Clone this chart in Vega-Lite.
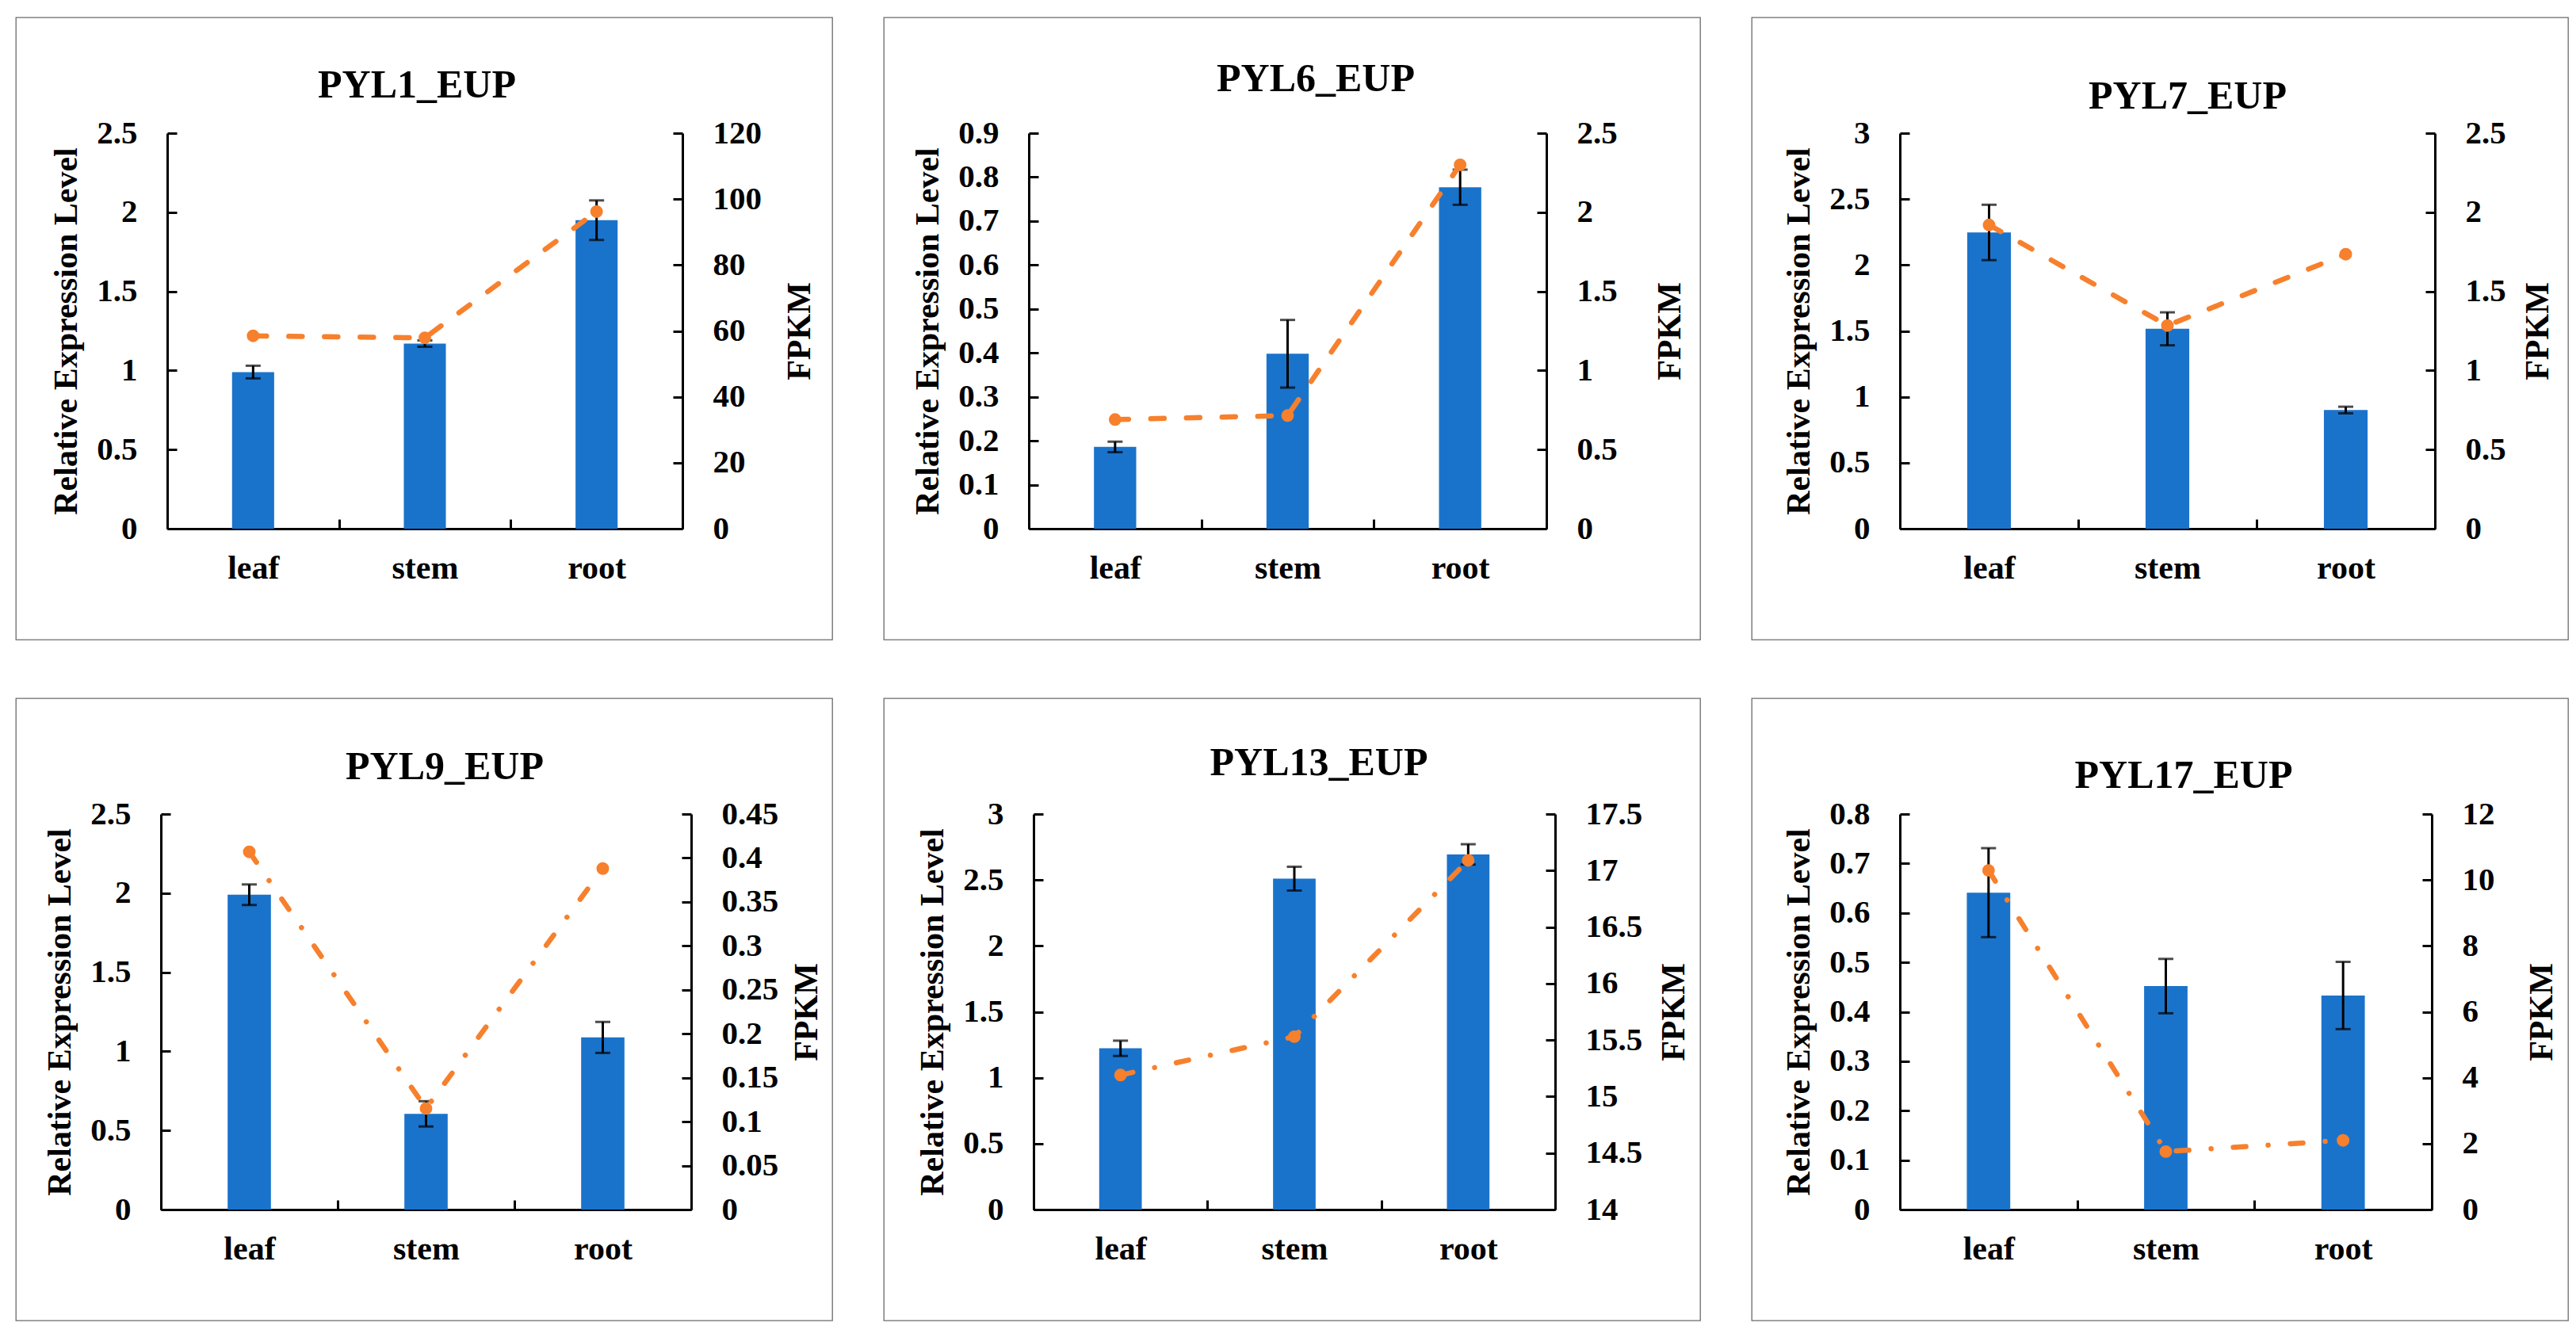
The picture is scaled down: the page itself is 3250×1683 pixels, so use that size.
{
  "$schema": "https://vega.github.io/schema/vega-lite/v6.json",
  "background": "white",
  "padding": {"left": 19, "top": 21, "right": 0, "bottom": 0},
  "datasets": {
    "expr": [
      {"gene": "PYL1_EUP", "tissue": "leaf", "rel": 0.99, "err": 0.04, "fpkm": 58.5},
      {"gene": "PYL1_EUP", "tissue": "stem", "rel": 1.17, "err": 0.02, "fpkm": 57.9},
      {"gene": "PYL1_EUP", "tissue": "root", "rel": 1.95, "err": 0.125, "fpkm": 96.2},
      {"gene": "PYL6_EUP", "tissue": "leaf", "rel": 0.186, "err": 0.012, "fpkm": 0.69},
      {"gene": "PYL6_EUP", "tissue": "stem", "rel": 0.398, "err": 0.077, "fpkm": 0.715},
      {"gene": "PYL6_EUP", "tissue": "root", "rel": 0.777, "err": 0.04, "fpkm": 2.3},
      {"gene": "PYL7_EUP", "tissue": "leaf", "rel": 2.247, "err": 0.21, "fpkm": 1.92},
      {"gene": "PYL7_EUP", "tissue": "stem", "rel": 1.516, "err": 0.125, "fpkm": 1.284},
      {"gene": "PYL7_EUP", "tissue": "root", "rel": 0.9, "err": 0.025, "fpkm": 1.735},
      {"gene": "PYL9_EUP", "tissue": "leaf", "rel": 1.99, "err": 0.065, "fpkm": 0.407},
      {"gene": "PYL9_EUP", "tissue": "stem", "rel": 0.605, "err": 0.08, "fpkm": 0.115},
      {"gene": "PYL9_EUP", "tissue": "root", "rel": 1.088, "err": 0.098, "fpkm": 0.388},
      {"gene": "PYL13_EUP", "tissue": "leaf", "rel": 1.223, "err": 0.058, "fpkm": 15.19},
      {"gene": "PYL13_EUP", "tissue": "stem", "rel": 2.51, "err": 0.09, "fpkm": 15.53},
      {"gene": "PYL13_EUP", "tissue": "root", "rel": 2.694, "err": 0.077, "fpkm": 17.09},
      {"gene": "PYL17_EUP", "tissue": "leaf", "rel": 0.641, "err": 0.09, "fpkm": 10.29},
      {"gene": "PYL17_EUP", "tissue": "stem", "rel": 0.452, "err": 0.055, "fpkm": 1.758},
      {"gene": "PYL17_EUP", "tissue": "root", "rel": 0.433, "err": 0.068, "fpkm": 2.1}
    ]
  },
  "spacing": 72,
  "vconcat": [
    {
      "spacing": 63,
      "hconcat": [
        {
          "width": 1030, "height": 785,
          "data": {"name": "expr"},
          "title": {"text": "PYL1_EUP", "offset": -111, "dx": -9},
          "transform": [{"filter": "datum.gene == 'PYL1_EUP'"}],
          "encoding": {"x": {"field": "tissue", "type": "nominal", "sort": ["leaf", "stem", "root"], "scale": {"range": [191, 841], "paddingInner": 0, "paddingOuter": 0}, "axis": {"title": null, "offset": -140}}},
          "layer": [
            {"layer": [
              {"mark": {"type": "bar", "color": "#1A73CB", "width": {"band": 0.245}},
               "encoding": {"y": {"field": "rel", "type": "quantitative", "title": "Relative Expression Level", "scale": {"domain": [0, 2.5], "range": [645, 146], "nice": false}, "axis": {"orient": "left", "offset": -191, "values": [0, 0.5, 1, 1.5, 2, 2.5]}}}},
              {"mark": {"type": "errorbar", "ticks": true, "color": "black", "thickness": 3, "size": 19},
               "encoding": {"y": {"field": "rel", "type": "quantitative", "title": "Relative Expression Level"}, "yError": {"field": "err"}}}
            ]},
            {"layer": [
              {"mark": {"type": "line", "color": "#F7802D", "strokeWidth": 6.5, "strokeCap": "round", "strokeDash": [17, 28]},
               "encoding": {"y": {"field": "fpkm", "type": "quantitative", "title": "FPKM", "scale": {"domain": [0, 120], "range": [645, 146], "nice": false}, "axis": {"orient": "right", "offset": -189, "titleX": 147, "values": [0, 20, 40, 60, 80, 100, 120]}}}},
              {"mark": {"type": "circle", "color": "#F7802D", "opacity": 1, "size": 254},
               "encoding": {"y": {"field": "fpkm", "type": "quantitative", "title": "FPKM"}}}
            ]}
          ],
          "resolve": {"scale": {"y": "independent"}}
        },
        {
          "width": 1030, "height": 785,
          "data": {"name": "expr"},
          "title": {"text": "PYL6_EUP", "offset": -103, "dx": 30},
          "transform": [{"filter": "datum.gene == 'PYL6_EUP'"}],
          "encoding": {"x": {"field": "tissue", "type": "nominal", "sort": ["leaf", "stem", "root"], "scale": {"range": [183, 836], "paddingInner": 0, "paddingOuter": 0}, "axis": {"title": null, "offset": -140}}},
          "layer": [
            {"layer": [
              {"mark": {"type": "bar", "color": "#1A73CB", "width": {"band": 0.245}},
               "encoding": {"y": {"field": "rel", "type": "quantitative", "title": "Relative Expression Level", "scale": {"domain": [0, 0.9], "range": [645, 146], "nice": false}, "axis": {"orient": "left", "offset": -183, "values": [0, 0.1, 0.2, 0.3, 0.4, 0.5, 0.6, 0.7, 0.8, 0.9]}}}},
              {"mark": {"type": "errorbar", "ticks": true, "color": "black", "thickness": 3, "size": 19},
               "encoding": {"y": {"field": "rel", "type": "quantitative", "title": "Relative Expression Level"}, "yError": {"field": "err"}}}
            ]},
            {"layer": [
              {"mark": {"type": "line", "color": "#F7802D", "strokeWidth": 6.5, "strokeCap": "round", "strokeDash": [17, 28]},
               "encoding": {"y": {"field": "fpkm", "type": "quantitative", "title": "FPKM", "scale": {"domain": [0, 2.5], "range": [645, 146], "nice": false}, "axis": {"orient": "right", "offset": -194, "titleX": 155, "values": [0, 0.5, 1, 1.5, 2, 2.5]}}}},
              {"mark": {"type": "circle", "color": "#F7802D", "opacity": 1, "size": 254},
               "encoding": {"y": {"field": "fpkm", "type": "quantitative", "title": "FPKM"}}}
            ]}
          ],
          "resolve": {"scale": {"y": "independent"}}
        },
        {
          "width": 1030, "height": 785,
          "data": {"name": "expr"},
          "title": {"text": "PYL7_EUP", "offset": -125, "dx": 35},
          "transform": [{"filter": "datum.gene == 'PYL7_EUP'"}],
          "encoding": {"x": {"field": "tissue", "type": "nominal", "sort": ["leaf", "stem", "root"], "scale": {"range": [187, 862], "paddingInner": 0, "paddingOuter": 0}, "axis": {"title": null, "offset": -140}}},
          "layer": [
            {"layer": [
              {"mark": {"type": "bar", "color": "#1A73CB", "width": {"band": 0.245}},
               "encoding": {"y": {"field": "rel", "type": "quantitative", "title": "Relative Expression Level", "scale": {"domain": [0, 3], "range": [645, 146], "nice": false}, "axis": {"orient": "left", "offset": -187, "values": [0, 0.5, 1, 1.5, 2, 2.5, 3]}}}},
              {"mark": {"type": "errorbar", "ticks": true, "color": "black", "thickness": 3, "size": 19},
               "encoding": {"y": {"field": "rel", "type": "quantitative", "title": "Relative Expression Level"}, "yError": {"field": "err"}}}
            ]},
            {"layer": [
              {"mark": {"type": "line", "color": "#F7802D", "strokeWidth": 6.5, "strokeCap": "round", "strokeDash": [17, 28]},
               "encoding": {"y": {"field": "fpkm", "type": "quantitative", "title": "FPKM", "scale": {"domain": [0, 2.5], "range": [645, 146], "nice": false}, "axis": {"orient": "right", "offset": -168, "titleX": 129, "values": [0, 0.5, 1, 1.5, 2, 2.5]}}}},
              {"mark": {"type": "circle", "color": "#F7802D", "opacity": 1, "size": 254},
               "encoding": {"y": {"field": "fpkm", "type": "quantitative", "title": "FPKM"}}}
            ]}
          ],
          "resolve": {"scale": {"y": "independent"}}
        }
      ]
    },
    {
      "spacing": 63,
      "hconcat": [
        {
          "width": 1030, "height": 785,
          "data": {"name": "expr"},
          "title": {"text": "PYL9_EUP", "offset": -112, "dx": 26},
          "transform": [{"filter": "datum.gene == 'PYL9_EUP'"}],
          "encoding": {"x": {"field": "tissue", "type": "nominal", "sort": ["leaf", "stem", "root"], "scale": {"range": [183, 852], "paddingInner": 0, "paddingOuter": 0}, "axis": {"title": null, "offset": -140}}},
          "layer": [
            {"layer": [
              {"mark": {"type": "bar", "color": "#1A73CB", "width": {"band": 0.245}},
               "encoding": {"y": {"field": "rel", "type": "quantitative", "title": "Relative Expression Level", "scale": {"domain": [0, 2.5], "range": [645, 146], "nice": false}, "axis": {"orient": "left", "offset": -183, "values": [0, 0.5, 1, 1.5, 2, 2.5]}}}},
              {"mark": {"type": "errorbar", "ticks": true, "color": "black", "thickness": 3, "size": 19},
               "encoding": {"y": {"field": "rel", "type": "quantitative", "title": "Relative Expression Level"}, "yError": {"field": "err"}}}
            ]},
            {"layer": [
              {"mark": {"type": "line", "color": "#F7802D", "strokeWidth": 6.5, "strokeCap": "round", "strokeDash": [16, 28, 0.1, 28]},
               "encoding": {"y": {"field": "fpkm", "type": "quantitative", "title": "FPKM", "scale": {"domain": [0, 0.45], "range": [645, 146], "nice": false}, "axis": {"orient": "right", "offset": -178, "titleX": 145, "values": [0, 0.05, 0.1, 0.15, 0.2, 0.25, 0.3, 0.35, 0.4, 0.45]}}}},
              {"mark": {"type": "circle", "color": "#F7802D", "opacity": 1, "size": 254},
               "encoding": {"y": {"field": "fpkm", "type": "quantitative", "title": "FPKM"}}}
            ]}
          ],
          "resolve": {"scale": {"y": "independent"}}
        },
        {
          "width": 1030, "height": 785,
          "data": {"name": "expr"},
          "title": {"text": "PYL13_EUP", "offset": -107, "dx": 34},
          "transform": [{"filter": "datum.gene == 'PYL13_EUP'"}],
          "encoding": {"x": {"field": "tissue", "type": "nominal", "sort": ["leaf", "stem", "root"], "scale": {"range": [189, 847], "paddingInner": 0, "paddingOuter": 0}, "axis": {"title": null, "offset": -140}}},
          "layer": [
            {"layer": [
              {"mark": {"type": "bar", "color": "#1A73CB", "width": {"band": 0.245}},
               "encoding": {"y": {"field": "rel", "type": "quantitative", "title": "Relative Expression Level", "scale": {"domain": [0, 3], "range": [645, 146], "nice": false}, "axis": {"orient": "left", "offset": -189, "values": [0, 0.5, 1, 1.5, 2, 2.5, 3]}}}},
              {"mark": {"type": "errorbar", "ticks": true, "color": "black", "thickness": 3, "size": 19},
               "encoding": {"y": {"field": "rel", "type": "quantitative", "title": "Relative Expression Level"}, "yError": {"field": "err"}}}
            ]},
            {"layer": [
              {"mark": {"type": "line", "color": "#F7802D", "strokeWidth": 6.5, "strokeCap": "round", "strokeDash": [16, 28, 0.1, 28]},
               "encoding": {"y": {"field": "fpkm", "type": "quantitative", "title": "FPKM", "scale": {"domain": [14, 17.5], "zero": false, "range": [645, 146], "nice": false}, "axis": {"orient": "right", "offset": -183, "titleX": 149, "values": [14, 14.5, 15, 15.5, 16, 16.5, 17, 17.5]}}}},
              {"mark": {"type": "circle", "color": "#F7802D", "opacity": 1, "size": 254},
               "encoding": {"y": {"field": "fpkm", "type": "quantitative", "title": "FPKM"}}}
            ]}
          ],
          "resolve": {"scale": {"y": "independent"}}
        },
        {
          "width": 1030, "height": 785,
          "data": {"name": "expr"},
          "title": {"text": "PYL17_EUP", "offset": -123, "dx": 30},
          "transform": [{"filter": "datum.gene == 'PYL17_EUP'"}],
          "encoding": {"x": {"field": "tissue", "type": "nominal", "sort": ["leaf", "stem", "root"], "scale": {"range": [187, 858], "paddingInner": 0, "paddingOuter": 0}, "axis": {"title": null, "offset": -140}}},
          "layer": [
            {"layer": [
              {"mark": {"type": "bar", "color": "#1A73CB", "width": {"band": 0.245}},
               "encoding": {"y": {"field": "rel", "type": "quantitative", "title": "Relative Expression Level", "scale": {"domain": [0, 0.8], "range": [645, 146], "nice": false}, "axis": {"orient": "left", "offset": -187, "values": [0, 0.1, 0.2, 0.3, 0.4, 0.5, 0.6, 0.7, 0.8]}}}},
              {"mark": {"type": "errorbar", "ticks": true, "color": "black", "thickness": 3, "size": 19},
               "encoding": {"y": {"field": "rel", "type": "quantitative", "title": "Relative Expression Level"}, "yError": {"field": "err"}}}
            ]},
            {"layer": [
              {"mark": {"type": "line", "color": "#F7802D", "strokeWidth": 6.5, "strokeCap": "round", "strokeDash": [16, 28, 0.1, 28]},
               "encoding": {"y": {"field": "fpkm", "type": "quantitative", "title": "FPKM", "scale": {"domain": [0, 12], "range": [645, 146], "nice": false}, "axis": {"orient": "right", "offset": -172, "titleX": 138, "values": [0, 2, 4, 6, 8, 10, 12]}}}},
              {"mark": {"type": "circle", "color": "#F7802D", "opacity": 1, "size": 254},
               "encoding": {"y": {"field": "fpkm", "type": "quantitative", "title": "FPKM"}}}
            ]}
          ],
          "resolve": {"scale": {"y": "independent"}}
        }
      ]
    }
  ],
  "config": {
    "font": "Liberation Serif",
    "view": {"stroke": "#6b6b6b", "strokeWidth": 1.3},
    "title": {"font": "Liberation Serif", "fontSize": 50, "fontWeight": "bold", "color": "black", "anchor": "middle", "baseline": "middle"},
    "axis": {
      "grid": false,
      "domainColor": "black", "domainWidth": 3,
      "tickColor": "black", "tickWidth": 3, "tickSize": -12,
      "labelFont": "Liberation Serif", "labelFontSize": 41, "labelFontWeight": "bold", "labelColor": "black", "labelPadding": 50,
      "titleFont": "Liberation Serif", "titleFontSize": 42, "titleFontWeight": "bold", "titleColor": "black"
    },
    "axisY": {"format": "~g"},
    "axisLeft": {"titlePadding": 16},
    "axisRight": {"titleAngle": 270, "titleBaseline": "middle"},
    "axisX": {"labelFontSize": 42, "labelPadding": 41, "labelAngle": 0, "tickBand": "extent"}
  }
}
